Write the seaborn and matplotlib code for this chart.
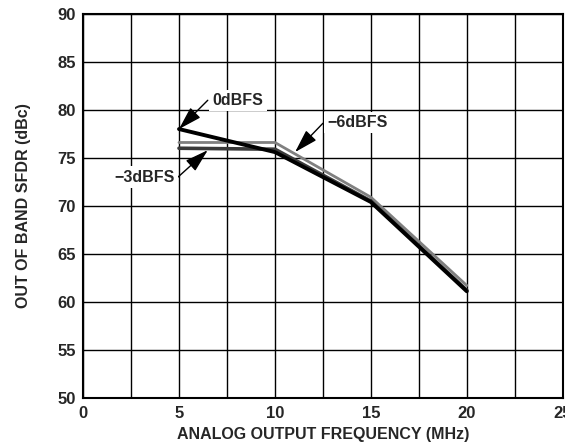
import matplotlib
matplotlib.use("Agg")
import matplotlib.pyplot as plt
import seaborn as sns
import pandas as pd

freq = [5, 10, 15, 20]
sfdr_0dbfs = [78.0, 75.6, 70.4, 61.1]
sfdr_m3dbfs = [76.0, 75.9, 70.5, 61.2]
sfdr_m6dbfs = [76.6, 76.6, 70.9, 61.7]
series_names = ["0dBFS", "\u22123dBFS", "\u22126dBFS"]

sns.set_theme(style="white")
plt.rcParams['font.family'] = ['Liberation Sans', 'DejaVu Sans']
plt.rcParams['font.weight'] = 'bold'

df = pd.DataFrame({
    "freq": freq * 3,
    "sfdr": sfdr_0dbfs + sfdr_m3dbfs + sfdr_m6dbfs,
    "series": [series_names[0]] * 4 + [series_names[1]] * 4 + [series_names[2]] * 4,
})

fig = plt.figure(figsize=(5.65, 4.47), dpi=100)
ax = fig.add_axes([0.147, 0.110, 0.849, 0.859])

ax.set_xlim(0, 25)
ax.set_ylim(50, 90)
ax.set_xticks([0, 5, 10, 15, 20, 25])
ax.set_xticks([2.5, 7.5, 12.5, 17.5, 22.5], minor=True)
ax.set_yticks(range(50, 91, 5))
ax.grid(True, which='both', color='black', linewidth=1.0)
ax.set_axisbelow(True)
for s in ax.spines.values():
    s.set_color('black')
    s.set_linewidth(1.5)
ax.tick_params(axis='both', which='both', length=0, labelsize=12)
ax.tick_params(axis='x', pad=6)
ax.tick_params(axis='y', pad=5)
for lab in ax.get_xticklabels() + ax.get_yticklabels():
    lab.set_fontweight('bold')

palette = {series_names[0]: "#000000", series_names[1]: "#3a3a3a", series_names[2]: "#808080"}
sizes = {series_names[0]: 2.8, series_names[1]: 2.6, series_names[2]: 2.0}
order = [series_names[2], series_names[1], series_names[0]]
for name in order:
    sub = df[df["series"] == name]
    sns.lineplot(data=sub, x="freq", y="sfdr", ax=ax, color=palette[name],
                 linewidth=sizes[name], legend=False, zorder=3)

ax.set_xlabel("ANALOG OUTPUT FREQUENCY (MHz)", fontsize=11.5, fontweight='bold', labelpad=4)
ax.set_ylabel("OUT OF BAND SFDR (dBc)", fontsize=11.5, fontweight='bold', labelpad=19)

bbox = dict(boxstyle='square,pad=0.2', fc='white', ec='none')
arrow = dict(arrowstyle='-|>,head_length=0.8,head_width=0.24', color='black', lw=1.0,
             mutation_scale=18, shrinkA=0, shrinkB=0)

labels = [
    (series_names[0], (8.07, 81.0), (6.5, 81.0), (5.0, 78.0)),
    (series_names[1], (3.23, 73.0), (4.95, 73.0), (6.5, 75.8)),
    (series_names[2], (14.3, 78.7), (12.5, 78.6), (11.05, 75.6)),
]
for text, tpos, tail, tip in labels:
    ax.annotate("", xy=tip, xytext=tail, arrowprops=arrow, zorder=4)
    ax.text(tpos[0], tpos[1], text, fontsize=11.5, fontweight='bold', ha='center',
            va='center', bbox=bbox, zorder=5)

fig.savefig("out.png", dpi=100)
